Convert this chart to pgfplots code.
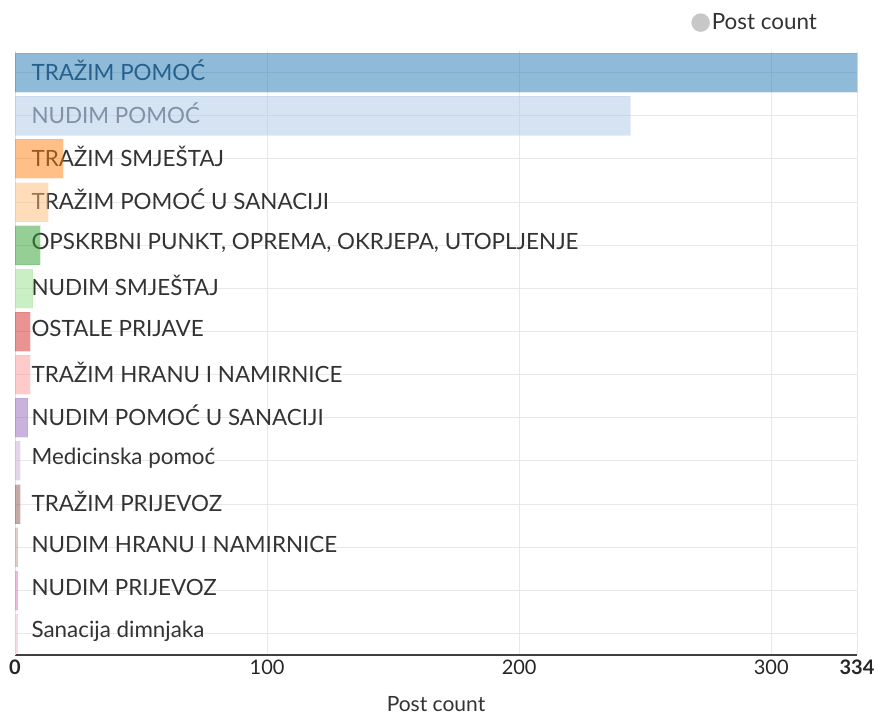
\documentclass[border=0pt]{standalone}
\usepackage{pgfplots}
\pgfplotsset{compat=1.18}
\usepackage{fontspec}
\setmainfont{Lato}
\definecolor{c1}{HTML}{1F77B4}
\definecolor{c2}{HTML}{AEC7E8}
\definecolor{c3}{HTML}{FF7F0E}
\definecolor{c4}{HTML}{FFBB78}
\definecolor{c5}{HTML}{2CA02C}
\definecolor{c6}{HTML}{98DF8A}
\definecolor{c7}{HTML}{D62728}
\definecolor{c8}{HTML}{FF9896}
\definecolor{c9}{HTML}{9467BD}
\definecolor{c10}{HTML}{C5B0D5}
\definecolor{c11}{HTML}{8C564B}
\definecolor{c12}{HTML}{C49C94}
\definecolor{c13}{HTML}{E377C2}
\definecolor{c14}{HTML}{F7B6D2}
\definecolor{txt}{HTML}{333333}
\begin{document}
\begin{tikzpicture}[x=1pt,y=1pt]
\path[use as bounding box] (0,0) rectangle (878,715);
\begin{axis}[
  at={(15pt,60pt)}, anchor=south west,
  scale only axis, width=842pt, height=604pt,
  xbar, bar width=39pt, bar shift=0pt,
  xmin=0, xmax=334,
  ymin=-0.5, ymax=13.5, y dir=reverse,
  ytick={0,...,13},
  yticklabels={{\color[HTML]{2E4A63}TRAŽIM POMOĆ},{\color[HTML]{555B66}NUDIM POMOĆ},TRAŽIM SMJEŠTAJ,TRAŽIM POMOĆ U SANACIJI,{OPSKRBNI PUNKT, OPREMA, OKRJEPA, UTOPLJENJE},NUDIM SMJEŠTAJ,OSTALE PRIJAVE,TRAŽIM HRANU I NAMIRNICE,NUDIM POMOĆ U SANACIJI,Medicinska pomoć,TRAŽIM PRIJEVOZ,NUDIM HRANU I NAMIRNICE,NUDIM PRIJEVOZ,Sanacija dimnjaka},
  yticklabel style={anchor=west, xshift=13pt, yshift=2.5pt, font=\fontsize{22.4}{26}\selectfont, text=txt},
  xtick={0,100,200,300,334},
  xticklabels={\textbf{0},100,200,300,\textbf{334}},
  xticklabel style={font=\fontsize{20}{24}\selectfont, text=black!85, yshift=-1pt},
  /pgf/number format/assume math mode=true,
  major tick length=0pt,
  xmajorgrids, ymajorgrids,
  grid style={draw=black!9, line width=1pt},
  axis x line*=bottom, axis y line*=left,
  x axis line style={draw=black!75, line width=2.5pt, -},
  y axis line style={draw=black!12, line width=1pt, -},
  xlabel={Post count},
  xlabel style={font=\fontsize{21}{24}\selectfont, text=txt, yshift=-15pt},
  legend style={at={(rel axis cs:0.955,1.047)}, anchor=east, draw=none, fill=none,
    font=\fontsize{22.4}{26}\selectfont, text=txt, inner sep=0pt,
    /tikz/every even column/.append style={column sep=0pt}},
  legend image code/.code={\fill[black!22] (6pt,0pt) circle (9pt);},
  legend cell align=left,
  clip=false,
]
\addlegendimage{black!22}
\addlegendentry{Post count}
\addplot[fill=c1, fill opacity=0.5, draw=c1, draw opacity=0.15, forget plot] coordinates {(334,0)};
\addplot[fill=c2, fill opacity=0.5, draw=c2, draw opacity=0.3, forget plot] coordinates {(244,1)};
\addplot[fill=c3, fill opacity=0.5, draw=c3, draw opacity=0.15, forget plot] coordinates {(19,2)};
\addplot[fill=c4, fill opacity=0.5, draw=c4, draw opacity=0.15, forget plot] coordinates {(13,3)};
\addplot[fill=c5, fill opacity=0.5, draw=c5, draw opacity=0.15, forget plot] coordinates {(10,4)};
\addplot[fill=c6, fill opacity=0.5, draw=c6, draw opacity=0.15, forget plot] coordinates {(7,5)};
\addplot[fill=c7, fill opacity=0.5, draw=c7, draw opacity=0.15, forget plot] coordinates {(6,6)};
\addplot[fill=c8, fill opacity=0.5, draw=c8, draw opacity=0.15, forget plot] coordinates {(6,7)};
\addplot[fill=c9, fill opacity=0.5, draw=c9, draw opacity=0.15, forget plot] coordinates {(5,8)};
\addplot[fill=c10, fill opacity=0.5, draw=c10, draw opacity=0.15, forget plot] coordinates {(2,9)};
\addplot[fill=c11, fill opacity=0.5, draw=c11, draw opacity=0.15, forget plot] coordinates {(2,10)};
\addplot[fill=c12, fill opacity=0.5, draw=c12, draw opacity=0.15, forget plot] coordinates {(1,11)};
\addplot[fill=c13, fill opacity=0.5, draw=c13, draw opacity=0.15, forget plot] coordinates {(1,12)};
\addplot[fill=c14, fill opacity=0.5, draw=c14, draw opacity=0.15, forget plot] coordinates {(1,13)};
\end{axis}
\end{tikzpicture}
\end{document}
